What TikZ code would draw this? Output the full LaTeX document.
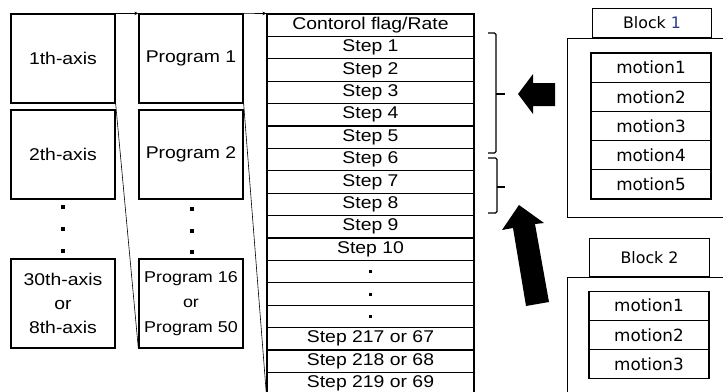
\documentclass[tikz,border=0pt]{standalone}
\usepackage{fontspec}
\setmainfont{Liberation Sans}[FakeStretch=1.14]
\newfontfamily\jfont{DejaVu Sans}
\usetikzlibrary{arrows.meta}
\definecolor{blockblue}{RGB}{40,60,150}
\begin{document}
\begin{tikzpicture}[x=1pt,y=-1pt,
  box/.style={draw,line width=1.3pt,minimum width=104pt,minimum height=89pt,inner sep=0pt,align=center,font=\fontsize{17}{24}\selectfont},
  row/.style={draw,line width=1.1pt,minimum width=207pt,minimum height=22.4pt,inner sep=0pt,font=\fontsize{17}{18}\selectfont},
  mrow/.style={draw,line width=1.1pt,minimum width=120pt,minimum height=29.2pt,inner sep=0pt,font=\jfont\fontsize{16.8}{18}\selectfont},
  tabbox/.style={draw,line width=1.1pt,minimum width=119pt,minimum height=29pt,inner sep=0pt,font=\jfont\fontsize{15.8}{18}\selectfont},
  outerbox/.style={draw,line width=1.1pt,minimum width=180pt,inner sep=0pt},
  dotsq/.style={fill=black,minimum size=4pt,inner sep=0pt},
  smalldot/.style={fill=black,minimum size=3pt,inner sep=0pt},
  brace/.style={line width=1.2pt,rounded corners=1.5pt},
  link/.style={line width=0.6pt},
  toparrow/.style={line width=1pt,-{Stealth[length=4pt,width=3.5pt]}}
]
\useasboundingbox[fill=white] (0,0) rectangle (723,391);
\clip (0,0) rectangle (723,391);

% axis column
\node[box] (a1) at (63,58.5) {1th-axis};
\node[box] (a2) at (63,154.5) {2th-axis};
\node[box] (a30) at (63,303.5) {30th-axis\\or\\8th-axis};
\node[dotsq] (ad1) at (63,207) {};
\node[dotsq] (ad2) at (63,229) {};
\node[dotsq] (ad3) at (63,251) {};

% program column
\node[box] (p1) at (191,58.5) {Program 1};
\node[box] (p2) at (191,154.5) {Program 2};
\node[box,font=\fontsize{15.7}{25}\selectfont] (p16) at (191,303.5) {Program 16\\or\\Program 50};
\node[dotsq] (pd1) at (192,209) {};
\node[dotsq] (pd2) at (192,231) {};
\node[dotsq] (pd3) at (192,252) {};

% step table
\foreach \t [count=\i from 0] in {{Contorol flag/Rate},{Step 1},{Step 2},{Step 3},{Step 4},{Step 5},{Step 6},{Step 7},{Step 8},{Step 9},{Step 10},{},{},{},{Step 217 or 67},{Step 218 or 68},{Step 219 or 69}}
  \node[row] (r\i) at (370.5,{14+22.4*(\i+0.5)}) {\t};
\foreach \i in {11,12,13}
  \node[smalldot] (rd\i) at (r\i.center) {};

% connectors
\draw[toparrow] (a1.north east) -- (p1.north west);
\draw[toparrow,line width=0.7pt] (p1.north east) -- (r0.north west);
\draw[link] (a1.south east) -- (p16.south west);
\draw[link] (p1.south east) -- (r16.south west);

% braces
\draw[brace] (488,33) -- (496,33) -- (496,153) -- (488,153);
\draw[brace] (496,94) -- (505,94);
\draw[brace] (488,158) -- (497,158) -- (497,213) -- (488,213);
\draw[brace] (497,187) -- (505,187);

% block arrows
\fill (518,94) -- (533,74) -- (533,83) -- (555,83) -- (555,106) -- (533,106) -- (533,114) -- cycle;
\fill (519,205) -- (544,223) -- (535,224) -- (549,302) -- (526,306) -- (513,228) -- (502,230) -- cycle;

% Block 1
\node[outerbox,anchor=north west,minimum height=179pt] (b1out) at (567,38) {};
\node[tabbox,anchor=south west] (b1tab) at (592,38) {Block \textcolor{blockblue}{1}};
\foreach \m [count=\i from 0] in {motion1,motion2,motion3,motion4,motion5}
  \node[mrow] (m1\i) at (651,{53+29.2*(\i+0.5)}) {\m};

% Block 2
\node[outerbox,anchor=north west,minimum height=140pt] (b2out) at (567,277) {};
\node[tabbox,minimum width=120pt,minimum height=38pt,anchor=south west] (b2tab) at (589,277) {Block 2};
\foreach \m [count=\i from 0] in {motion1,motion2,motion3}
  \node[mrow] (m2\i) at (649,{291+29.3*(\i+0.5)}) {\m};
\end{tikzpicture}
\end{document}
